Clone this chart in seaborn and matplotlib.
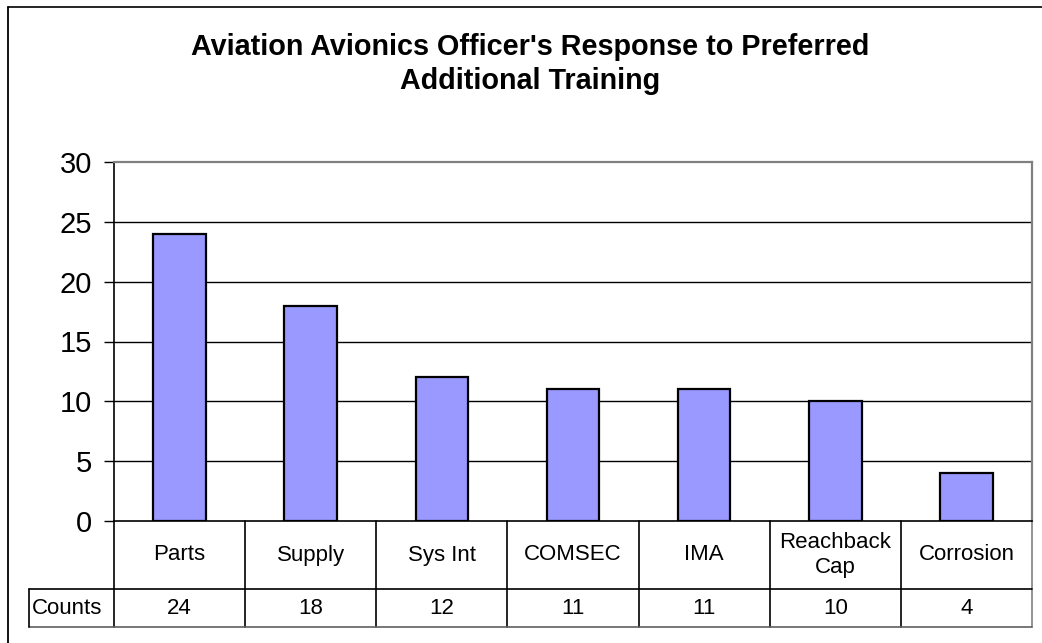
import matplotlib
matplotlib.use("Agg")
import matplotlib.pyplot as plt
import matplotlib.transforms as mtransforms
from matplotlib.lines import Line2D
import seaborn as sns
import pandas as pd

# Chart data
categories = ["Parts", "Supply", "Sys Int", "COMSEC", "IMA", "Reachback\nCap", "Corrosion"]
counts = [24, 18, 12, 11, 11, 10, 4]
row_label = "Counts"
y_ticks = [0, 5, 10, 15, 20, 25, 30]
title = "Aviation Avionics Officer's Response to Preferred\nAdditional Training"

BAR_COLOR = "#9999FF"
W, H = 1042, 643

sns.set_theme(style="white")
plt.rcParams["font.family"] = ["Liberation Sans", "DejaVu Sans"]
plt.rcParams["text.color"] = "black"
plt.rcParams["ytick.color"] = "black"

df = pd.DataFrame({"category": categories, "count": counts})

fig = plt.figure(figsize=(W / 100, H / 100), dpi=100)
# plot area in pixels: left 114, right 1032, top 162, bottom 521
ax = fig.add_axes([114 / W, 1 - 521 / H, (1032 - 114) / W, (521 - 162) / H])

sns.barplot(data=df, x="category", y="count", color=BAR_COLOR, width=0.4,
            edgecolor="black", linewidth=1.6, saturation=1, ax=ax, zorder=3)

ax.set_xlim(-0.5, len(categories) - 0.5)
ax.set_ylim(0, 30)
ax.set_yticks(y_ticks)
ax.set_yticklabels([str(t) for t in y_ticks], fontsize=21, color="black")
ax.set_xticks([])
ax.set_xlabel("")
ax.set_ylabel("")
ax.tick_params(axis="y", which="major", direction="out", length=7, width=1,
               color="black", left=True, pad=9)

# gridlines
for t in y_ticks[1:-1]:
    ax.axhline(t, color="black", linewidth=1, zorder=1)

for side in ["top", "right"]:
    ax.spines[side].set_color("#808080")
    ax.spines[side].set_linewidth(1.6)
for side in ["left", "bottom"]:
    ax.spines[side].set_color("black")
    ax.spines[side].set_linewidth(1.2)

fig.suptitle(title, fontsize=20.7, fontweight="bold", x=530 / W, y=1 - 64 / H,
             va="center", linespacing=1.3, color="black")

# data table under the axis
trans = mtransforms.blended_transform_factory(ax.transData, ax.transAxes)
px = (521 - 162)
y_head = -(589 - 521) / px
y_bot = -(627 - 521) / px

for i, (cat, val) in enumerate(zip(categories, counts)):
    ax.text(i, y_head / 2, cat, transform=trans, ha="center", va="center",
            fontsize=16, clip_on=False, linespacing=1.2)
    ax.text(i, (y_head + y_bot) / 2, str(val), transform=trans, ha="center",
            va="center", fontsize=16, clip_on=False)

for b in range(len(categories) + 1):
    xb = b - 0.5
    col = "#808080" if b == len(categories) else "black"
    ax.add_line(Line2D([xb, xb], [0, y_bot], transform=trans, color=col,
                       linewidth=1.2, clip_on=False))

# horizontal table lines (in figure pixels)
def hline(y_px, x0, x1, color="black"):
    fig.add_artist(Line2D([x0 / W, x1 / W], [1 - y_px / H, 1 - y_px / H],
                          transform=fig.transFigure, color=color, linewidth=1.2))

def vline(x_px, y0, y1, color="black", lw=1.2):
    fig.add_artist(Line2D([x_px / W, x_px / W], [1 - y0 / H, 1 - y1 / H],
                          transform=fig.transFigure, color=color, linewidth=lw))

hline(589, 29, 1032)
hline(627, 29, 1032, color="#606060")
vline(29, 589, 627)
fig.text(32 / W, 1 - 609 / H, row_label, ha="left", va="center", fontsize=16)

# chart frame
vline(8, 7, H + 5, lw=1.3)
hline(7, 8, W + 5)

fig.savefig("out.png", dpi=100, facecolor="white")
